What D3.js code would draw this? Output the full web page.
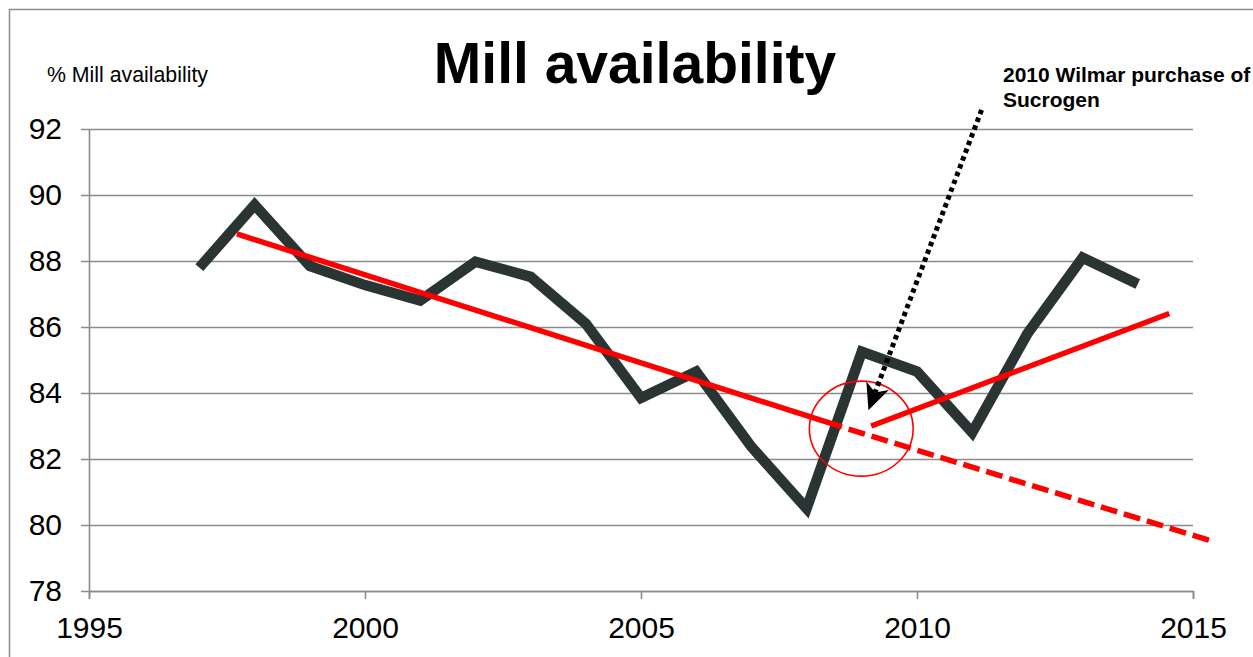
<!DOCTYPE html>
<html>
<head>
<meta charset="utf-8">
<script src="https://cdn.jsdelivr.net/npm/d3@7"></script>
<style>
  html, body { margin: 0; padding: 0; background: #fff; overflow: hidden; }
  svg { display: block; font-family: "Liberation Sans", Arial, Helvetica, sans-serif; }
</style>
</head>
<body>
<svg id="chart" width="1253" height="657"></svg>
<script>
// ---- data ----
const years = [1997, 1998, 1999, 2000, 2001, 2002, 2003, 2004, 2005, 2006, 2007, 2008, 2009, 2010, 2011, 2012, 2013, 2014];
const availability = [87.8, 89.7, 87.85, 87.27, 86.8, 87.98, 87.52, 86.1, 83.85, 84.65, 82.37, 80.5, 85.25, 84.65, 82.8, 85.8, 88.1, 87.3];

// pre-2009 trend (solid part, then dashed extrapolation)
const trendOldYears = [1997.68, 2008.64];
const trendOldValues = [88.82, 82.97];
const trendOldExtYears = [2008.64, 2015.31];
const trendOldExtValues = [82.97, 79.53];

// post-2009 trend
const trendNewYears = [2009.17, 2014.57];
const trendNewValues = [83.0, 86.41];

// annotation (data coordinates)
const circleCenter = [2008.99, 82.92];
const circleRadius = [0.94, 1.44];          // years, % points
const arrowFrom = [2011.17, 92.58];
const arrowTo = [2009.12, 83.48];
const annotationLines = ["2010 Wilmar purchase of", "Sucrogen"];

const xTicks = [1995, 2000, 2005, 2010, 2015];
const yTicks = [78, 80, 82, 84, 86, 88, 90, 92];
const titleText = "Mill availability";
const yLabelText = "% Mill availability";

// ---- layout ----
(function () {
const svg = d3.select("#chart");
const mLeft = 89, mRight = 1193, mTop = 129, mBottom = 591;
const x = d3.scaleLinear().domain([1995, 2015]).range([mLeft, mRight]);
const y = d3.scaleLinear().domain([78, 92]).range([mBottom, mTop]);
const gridColor = "#8c8c8c";

// outer frame
svg.append("rect")
  .attr("x", 9.5).attr("y", 9.5).attr("width", 1400).attr("height", 800)
  .attr("fill", "none").attr("stroke", gridColor).attr("stroke-width", 1.5);

// y axis + gridlines
const yAxis = svg.append("g")
  .attr("transform", `translate(${mLeft},0)`)
  .call(d3.axisLeft(y).tickValues(yTicks).tickSize(-(mRight - mLeft)).tickSizeOuter(0).tickPadding(27).tickFormat(d3.format("d")));
yAxis.selectAll(".tick line").attr("x1", -8).attr("stroke", gridColor).attr("stroke-width", 1.6);
yAxis.select(".domain").attr("stroke", gridColor).attr("stroke-width", 1.6);
yAxis.selectAll("text").attr("font-size", 30).attr("fill", "#000")
  .attr("font-family", "Liberation Sans, Arial, sans-serif");

// x axis
const xAxis = svg.append("g")
  .attr("transform", `translate(0,${mBottom})`)
  .call(d3.axisBottom(x).tickValues(xTicks).tickSize(8).tickSizeOuter(8).tickPadding(18).tickFormat(d3.format("d")));
xAxis.selectAll(".tick line").attr("stroke", gridColor).attr("stroke-width", 1.6);
xAxis.select(".domain").attr("stroke", gridColor).attr("stroke-width", 1.6);
xAxis.selectAll("text").attr("font-size", 30).attr("fill", "#000")
  .attr("font-family", "Liberation Sans, Arial, sans-serif");

// data line
const line = d3.line().x(d => x(d[0])).y(d => y(d[1]));
svg.append("path")
  .datum(years.map((yr, i) => [yr, availability[i]]))
  .attr("d", line)
  .attr("fill", "none").attr("stroke", "#293433").attr("stroke-width", 10.5)
  .attr("stroke-linejoin", "miter").attr("stroke-linecap", "butt");

// trend lines
svg.append("path")
  .datum(trendOldYears.map((yr, i) => [yr, trendOldValues[i]]))
  .attr("d", line).attr("fill", "none").attr("stroke", "#ff0000").attr("stroke-width", 5.5);
svg.append("path")
  .datum(trendOldExtYears.map((yr, i) => [yr, trendOldExtValues[i]]))
  .attr("d", line).attr("fill", "none").attr("stroke", "#ff0000").attr("stroke-width", 5.5)
  .attr("stroke-dasharray", "17,7").attr("stroke-dashoffset", 17);
svg.append("path")
  .datum(trendNewYears.map((yr, i) => [yr, trendNewValues[i]]))
  .attr("d", line).attr("fill", "none").attr("stroke", "#ff0000").attr("stroke-width", 5.5);

// circle highlight
svg.append("ellipse")
  .attr("cx", x(circleCenter[0])).attr("cy", y(circleCenter[1]))
  .attr("rx", x(circleCenter[0] + circleRadius[0]) - x(circleCenter[0]))
  .attr("ry", y(circleCenter[1]) - y(circleCenter[1] + circleRadius[1]))
  .attr("fill", "none").attr("stroke", "#ff0000").attr("stroke-width", 1.6);

// arrow
const sx = x(arrowFrom[0]), sy = y(arrowFrom[1]);
const tx = x(arrowTo[0]), ty = y(arrowTo[1]);
const len = Math.hypot(tx - sx, ty - sy);
const ux = (tx - sx) / len, uy = (ty - sy) / len;
const px = -uy, py = ux;
const headLen = 26, headHalf = 12, notch = 19;
svg.append("line")
  .attr("x1", sx).attr("y1", sy)
  .attr("x2", tx - ux * notch).attr("y2", ty - uy * notch)
  .attr("stroke", "#000").attr("stroke-width", 5)
  .attr("stroke-dasharray", "4.5,3.8");
const bx = tx - ux * headLen, by = ty - uy * headLen;
svg.append("path")
  .attr("d", `M${tx},${ty} L${bx + px * headHalf},${by + py * headHalf} L${tx - ux * notch},${ty - uy * notch} L${bx - px * headHalf},${by - py * headHalf} Z`)
  .attr("fill", "#000");

// annotation text
svg.append("text")
  .attr("x", 1003).attr("y", 82)
  .attr("font-size", 21).attr("font-weight", "bold").attr("fill", "#000")
  .selectAll("tspan").data(annotationLines).join("tspan")
  .attr("x", 1003).attr("dy", (d, i) => i === 0 ? 0 : 25)
  .text(d => d);

// title
svg.append("text")
  .attr("x", 635).attr("y", 83)
  .attr("text-anchor", "middle")
  .attr("font-size", 57).attr("font-weight", "bold").attr("fill", "#000")
  .text(titleText);

// y label
svg.append("text")
  .attr("x", 47).attr("y", 82)
  .attr("font-size", 21.3).attr("fill", "#000")
  .text(yLabelText);
})();
</script>
</body>
</html>
